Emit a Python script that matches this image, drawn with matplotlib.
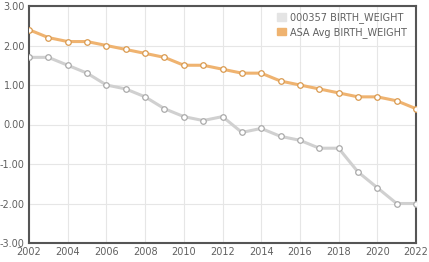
import matplotlib.pyplot as plt
import numpy as np
from matplotlib.patches import Patch

years = list(range(2002, 2023))
school_values = [1.7, 1.7, 1.5, 1.3, 1.0, 0.9, 0.7, 0.4, 0.2, 0.1, 0.2,
                 -0.2, -0.1, -0.3, -0.4, -0.6, -0.6, -1.2, -1.6, -2.0, -2.0]
asa_values = [2.4, 2.2, 2.1, 2.1, 2.0, 1.9, 1.8, 1.7, 1.5, 1.5, 1.4,
              1.3, 1.3, 1.1, 1.0, 0.9, 0.8, 0.7, 0.7, 0.6, 0.4]
series_labels = ["000357 BIRTH_WEIGHT", "ASA Avg BIRTH_WEIGHT"]

GRAY = "#d0d0d0"
ORANGE = "#efb370"
TEXT = "#606060"

fig = plt.figure(figsize=(4.29, 2.62), dpi=100)
ax = fig.add_axes([29 / 429, 1 - 243 / 262, (416 - 29) / 429, (243 - 6) / 262])

ax.plot(years, school_values, color=GRAY, lw=2.2, marker="o", ms=4,
        mfc="white", mec="#aaaaaa", mew=0.9, zorder=3)
ax.plot(years, asa_values, color=ORANGE, lw=2.2, marker="o", ms=4,
        mfc="white", mec="#d99a50", mew=0.9, zorder=3)

ax.set_xlim(2002, 2022)
ax.set_ylim(-3, 3)
ax.set_xticks(range(2002, 2023, 2))
ax.set_yticks(range(-3, 4))
ax.yaxis.set_major_formatter(plt.FuncFormatter(lambda v, p: f"{v:.2f}"))
ax.grid(True, color="#e6e6e6", lw=0.8)
ax.set_axisbelow(True)
ax.tick_params(length=0, labelsize=7, colors=TEXT, pad=3)

for side in ax.spines.values():
    side.set_color("#555555")
    side.set_linewidth(1.5)

# legend: plain colour patches, no frame
handles = [Patch(color="#e4e4e4"), Patch(color=ORANGE)]
leg = ax.legend(handles, series_labels, loc="upper right", frameon=False,
                fontsize=7, handlelength=1.0, handleheight=0.8,
                handletextpad=0.4, labelspacing=0.35,
                bbox_to_anchor=(1.0, 1.01))
for t in leg.get_texts():
    t.set_color(TEXT)

fig.savefig("out.png", dpi=100)
